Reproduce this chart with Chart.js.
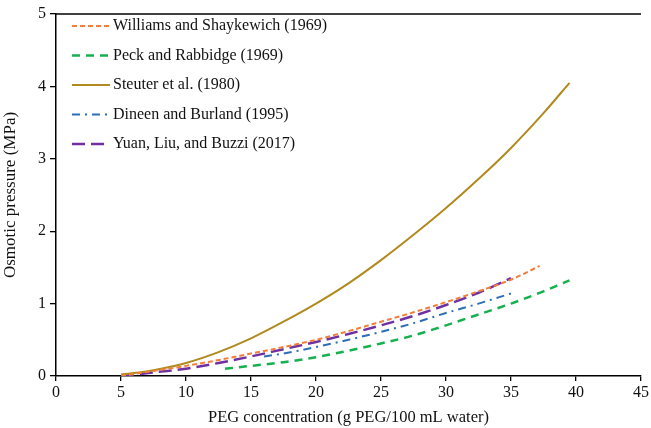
<!DOCTYPE html>
<html>
<head>
<meta charset="utf-8">
<script src="https://cdn.jsdelivr.net/npm/chart.js@4.4.1/dist/chart.umd.min.js"></script>
<style>
  html, body { margin: 0; padding: 0; background: #fff; }
  #wrap { width: 651px; height: 428px; }
</style>
</head>
<body>
<div id="wrap"><canvas id="osmo" width="651" height="428"></canvas></div>
<script>
// PEG concentration (g PEG/100 mL water) and osmotic pressure (MPa) per study
const williamsConc = [5, 7.5, 10, 12.5, 15, 17.5, 20, 22.5, 25, 27.5, 30, 32.5, 35, 37.2];
const williamsMPa  = [0, 0.07, 0.14, 0.22, 0.31, 0.40, 0.50, 0.62, 0.75, 0.88, 1.02, 1.17, 1.33, 1.52];

const peckConc = [13, 15, 17.5, 20, 22.5, 25, 27.5, 30, 32.5, 35, 37.5, 39.5];
const peckMPa  = [0.10, 0.14, 0.19, 0.26, 0.35, 0.45, 0.56, 0.70, 0.85, 1.00, 1.17, 1.32];

const steuterConc = [5, 7.5, 10, 12.5, 15, 17.5, 20, 22.5, 25, 27.5, 30, 32.5, 35, 37.5, 39.5];
const steuterMPa  = [0.02, 0.08, 0.18, 0.33, 0.52, 0.75, 1.00, 1.28, 1.60, 1.95, 2.32, 2.72, 3.15, 3.63, 4.05];

const dineenConc = [16, 17.5, 20, 22.5, 25, 27.5, 30, 32.5, 35];
const dineenMPa  = [0.27, 0.31, 0.40, 0.50, 0.61, 0.73, 0.87, 1.00, 1.14];

const yuanConc = [5, 7.5, 10, 12.5, 15, 17.5, 20, 22.5, 25, 27.5, 30, 32.5, 35];
const yuanMPa  = [0, 0.05, 0.10, 0.18, 0.27, 0.37, 0.47, 0.58, 0.70, 0.83, 0.98, 1.15, 1.35];

const seriesNames = [
  'Williams and Shaykewich (1969)',
  'Peck and Rabbidge (1969)',
  'Steuter et al. (1980)',
  'Dineen and Burland (1995)',
  'Yuan, Liu, and Buzzi (2017)'
];

const xTicks = [0, 5, 10, 15, 20, 25, 30, 35, 40, 45];
const yTicks = [0, 1, 2, 3, 4, 5];

function toPoints(xs, ys) {
  return xs.map((x, i) => ({ x: x, y: ys[i] }));
}

const serif = "'Liberation Serif', 'Times New Roman', serif";

// legend drawn inside the plot, top-left, with dashed samples
const innerLegend = {
  id: 'innerLegend',
  afterDraw(chart) {
    const ctx = chart.ctx;
    const area = chart.chartArea;
    ctx.save();
    // top frame line
    ctx.strokeStyle = '#000';
    ctx.lineWidth = 1.3;
    ctx.beginPath();
    ctx.moveTo(area.left, area.top);
    ctx.lineTo(area.right, area.top);
    ctx.stroke();

    ctx.font = '16px ' + serif;
    ctx.textBaseline = 'middle';
    chart.data.datasets.forEach((ds, i) => {
      const y = 26 + i * 29.5;
      ctx.strokeStyle = ds.borderColor;
      ctx.lineWidth = ds.borderWidth;
      ctx.setLineDash(ds.borderDash || []);
      ctx.beginPath();
      ctx.moveTo(72, y);
      ctx.lineTo(110, y);
      ctx.stroke();
      ctx.setLineDash([]);
      ctx.fillStyle = '#111';
      ctx.fillText(ds.label, 113, y);
    });
    ctx.restore();
  }
};

new Chart(document.getElementById('osmo'), {
  type: 'line',
  data: {
    datasets: [
      { label: seriesNames[0], data: toPoints(williamsConc, williamsMPa),
        borderColor: '#F07F3C', borderWidth: 2, borderDash: [5, 3] },
      { label: seriesNames[1], data: toPoints(peckConc, peckMPa),
        borderColor: '#16B04E', borderWidth: 2.5, borderDash: [8, 6] },
      { label: seriesNames[2], data: toPoints(steuterConc, steuterMPa),
        borderColor: '#B08A1E', borderWidth: 2 },
      { label: seriesNames[3], data: toPoints(dineenConc, dineenMPa),
        borderColor: '#2D6DB5', borderWidth: 2, borderDash: [8, 5, 2, 5] },
      { label: seriesNames[4], data: toPoints(yuanConc, yuanMPa),
        borderColor: '#7030A0', borderWidth: 2.5, borderDash: [13, 6] }
    ]
  },
  options: {
    responsive: false,
    animation: false,
    elements: {
      point: { radius: 0 },
      line: { cubicInterpolationMode: 'monotone', fill: false }
    },
    layout: { padding: { top: 14, right: 8, left: 0, bottom: 0 } },
    plugins: {
      legend: { display: false },
      tooltip: { enabled: false }
    },
    scales: {
      x: {
        type: 'linear',
        min: 0, max: 45,
        afterBuildTicks: (scale) => { scale.ticks = xTicks.map(v => ({ value: v })); },
        afterFit: (scale) => { scale.height = 52; },
        ticks: { color: '#111', font: { family: serif, size: 16 }, padding: 2, maxRotation: 0 },
        grid: { drawOnChartArea: false, drawTicks: true, tickLength: 5, color: '#000', lineWidth: 1.3 },
        border: { display: true, color: '#000', width: 1.5 },
        title: { display: true, text: 'PEG concentration (g PEG/100 mL water)', color: '#111',
                 font: { family: serif, size: 16.5 }, padding: { top: 2, bottom: 0 } }
      },
      y: {
        type: 'linear',
        min: 0, max: 5,
        afterBuildTicks: (scale) => { scale.ticks = yTicks.map(v => ({ value: v })); },
        afterFit: (scale) => { scale.width = 56; },
        ticks: { color: '#111', font: { family: serif, size: 16 }, padding: 4 },
        grid: { drawOnChartArea: false, drawTicks: true, tickLength: 6, color: '#000', lineWidth: 1.3 },
        border: { display: true, color: '#000', width: 1.5 },
        title: { display: true, text: 'Osmotic pressure (MPa)', color: '#111',
                 font: { family: serif, size: 17 }, padding: { top: 0, bottom: 4 } }
      }
    }
  },
  plugins: [innerLegend]
});
</script>
</body>
</html>
